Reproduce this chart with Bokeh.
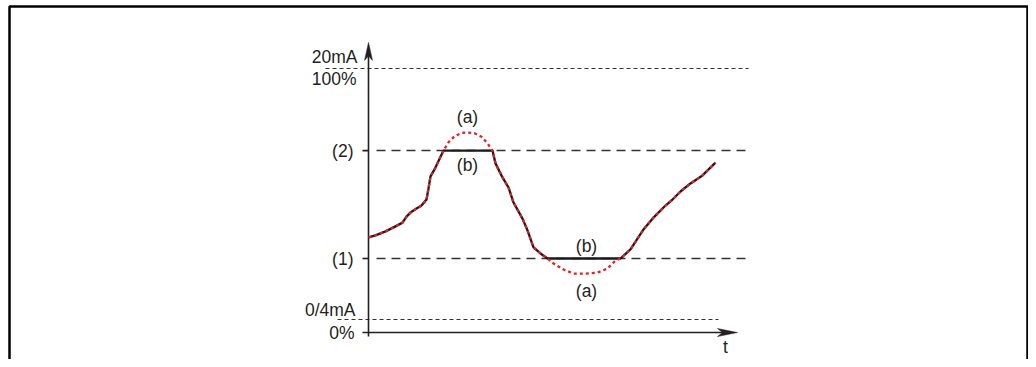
import numpy as np
from bokeh.plotting import figure
from bokeh.models import Range1d
from bokeh.core.properties import value
from bokeh.embed import file_html
from bokeh.resources import INLINE

# ---------------- data ----------------
time = [0.0, 0.7, 1.7, 2.7, 3.4, 3.8, 4.2, 4.8, 5.3, 5.8, 6.0, 6.2, 6.6, 7.5,
        8.0, 8.6, 9.3, 9.9, 10.6, 11.3, 11.9, 12.4, 12.7, 13.4, 14.0, 14.5,
        15.4, 15.9, 16.5, 17.2, 17.9, 18.5, 19.5, 20.5, 21.7, 22.9, 23.9,
        24.7, 25.2, 26.2, 27.5, 28.5, 29.7, 30.4, 31.2, 32.2, 33.4, 34.7]
# (a) unlimited signal, in % of range
signal_a = [32.7, 33.5, 35.1, 37.1, 38.6, 41.0, 42.6, 44.2, 45.4, 47.8, 52.2,
            57.0, 59.8, 67.3, 70.6, 73.0, 74.3, 74.5, 74.2, 72.8, 70.2, 67.3,
            62.2, 56.6, 52.6, 46.6, 40.2, 35.5, 28.7, 26.3, 24.3, 22.3, 19.9,
            18.3, 18.3, 18.7, 20.3, 23.5, 24.3, 27.9, 35.9, 40.6, 45.4, 47.8,
            51.0, 54.2, 57.4, 62.5]
# (b) limited output signal, in % of range
signal_b = [32.7, 33.5, 35.1, 37.1, 38.6, 41.0, 42.6, 44.2, 45.4, 47.8, 52.2,
            57.0, 59.8, 67.3, 67.3, 67.3, 67.3, 67.3, 67.3, 67.3, 67.3, 67.3,
            62.2, 56.6, 52.6, 46.6, 40.2, 35.5, 28.7, 26.3, 24.3, 24.3, 24.3,
            24.3, 24.3, 24.3, 24.3, 24.3, 24.3, 27.9, 35.9, 40.6, 45.4, 47.8,
            51.0, 54.2, 57.4, 62.5]

limit_values = [67.3, 24.3]          # (2), (1)
limit_labels = ["(2)", "(1)"]
range_values = [100.0, 0.0]          # 20mA/100%, 0/4mA/0%
range_top_labels = ["20mA", "0/4mA"]
range_bottom_labels = ["100%", "0%"]
curve_labels = ["(a)", "(b)", "(b)", "(a)"]
curve_label_t = [9.9, 9.9, 21.8, 21.8]
curve_label_v = [80.7, 61.4, 29.3, 11.4]
time_label = "t"

# ---------------- layout ----------------
W, H = 1028, 359
PX_T = 10.0      # pixels per time unit
PX_V = 2.51      # pixels per percent
T0 = -36.8
V1 = 319 / PX_V
T1 = T0 + W / PX_T
V0 = V1 - H / PX_V

X_AXIS_V = -5.2
Y_AXIS_T = 0.0

p = figure(width=W, height=H, x_range=Range1d(T0, T1), y_range=Range1d(V0, V1),
           output_backend="svg", toolbar_location=None,
           x_axis_location=None, y_axis_location=None, min_border=0)
p.grid.visible = False
p.outline_line_color = None
p.background_fill_color = "white"
p.border_fill_color = "white"

FONT = value("Liberation Sans")
FS = "17.5px"
TXT = "#231f20"

# frame (decoration) around the figure
fx0 = T0 + 9.0 / PX_T
fx1 = T1 - 1.0 / PX_T
fy1 = V1 - 6.0 / PX_V
p.line([fx0, fx0, fx1, fx1], [V0 - 5, fy1, fy1, V0 - 5], line_color="black",
       line_width=2.5)

# range lines (dotted, fine)
p.segment(x0=[-4.3, -3.1], y0=range_values, x1=[38.0, 35.0], y1=range_values,
          line_color="#333333", line_width=1, line_dash="4 3")
# limit lines (dashed)
p.segment(x0=[0.8] * 2, y0=limit_values, x1=[38.2] * 2, y1=limit_values,
          line_color="#333333", line_width=1.5, line_dash="9 6")

# axes
p.segment(x0=[Y_AXIS_T], y0=[X_AXIS_V - 1.6], x1=[Y_AXIS_T], y1=[108.0],
          line_color="#231f20", line_width=1.6)
p.segment(x0=[-0.6], y0=[X_AXIS_V], x1=[35.5], y1=[X_AXIS_V],
          line_color="#231f20", line_width=1.6)
p.segment(x0=[-0.6] * 2, y0=limit_values, x1=[0.0] * 2, y1=limit_values,
          line_color="#231f20", line_width=1.6)
# arrow heads
tip_v = 110.4
hl_v = 18 / PX_V
hw_t = 4 / PX_T
p.patch([Y_AXIS_T, Y_AXIS_T - hw_t, Y_AXIS_T, Y_AXIS_T + hw_t],
        [tip_v, tip_v - hl_v, tip_v - hl_v * 0.75, tip_v - hl_v],
        fill_color="#231f20", line_color="#231f20", line_width=0.5)
tip_t = 36.9
hl_t = 20 / PX_T
hw_v = 4 / PX_V
p.patch([tip_t, tip_t - hl_t, tip_t - hl_t * 0.75, tip_t - hl_t],
        [X_AXIS_V, X_AXIS_V + hw_v, X_AXIS_V, X_AXIS_V - hw_v],
        fill_color="#231f20", line_color="#231f20", line_width=0.5)

# signals
p.line(time, signal_b, line_color="#1a1a1a", line_width=2.3)
p.line(time, signal_a, line_color="#ec1c24", line_width=2.3, line_dash="3 3")

# labels
common = dict(text_font=FONT, text_font_size=FS, text_color=TXT)
p.text(x=[-1.5] * 2, y=limit_values, text=limit_labels, text_align="right",
       text_baseline="middle", **common)
p.text(x=[-1.1, -1.3], y=range_values, text=range_top_labels, y_offset=[-12, -9.5],
       text_align="right", text_baseline="middle", **common)
p.text(x=[-1.2, -1.4], y=[100.0, X_AXIS_V], text=range_bottom_labels,
       y_offset=[10.5, 0], text_align="right", text_baseline="middle", **common)
p.text(x=curve_label_t, y=curve_label_v, text=curve_labels, text_align="center",
       text_baseline="middle", **common)
p.text(x=[35.7], y=[-11.0], text=[time_label], text_align="center",
       text_baseline="middle", **common)

open("out.html", "w").write(file_html(p, INLINE))
